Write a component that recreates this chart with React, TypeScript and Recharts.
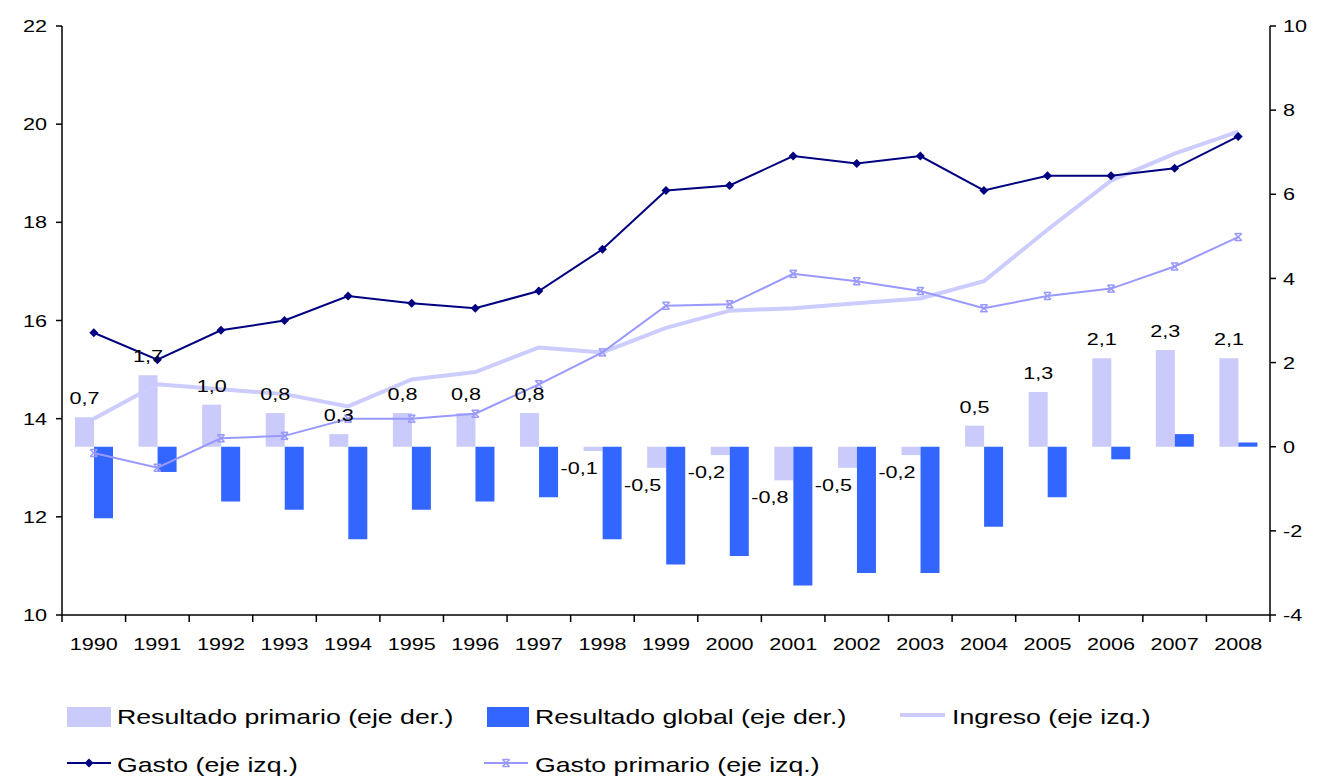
import React from 'react';
import { ComposedChart, Bar, Line, XAxis, YAxis, LabelList } from 'recharts';

const years = ['1990', '1991', '1992', '1993', '1994', '1995', '1996', '1997', '1998', '1999', '2000', '2001', '2002', '2003', '2004', '2005', '2006', '2007', '2008'];
const resultadoPrimario = [0.7, 1.7, 1.0, 0.8, 0.3, 0.8, 0.8, 0.8, -0.1, -0.5, -0.2, -0.8, -0.5, -0.2, 0.5, 1.3, 2.1, 2.3, 2.1];
const resultadoGlobal = [-1.7, -0.6, -1.3, -1.5, -2.2, -1.5, -1.3, -1.2, -2.2, -2.8, -2.6, -3.3, -3.0, -3.0, -1.9, -1.2, -0.3, 0.3, 0.1];
const ingreso = [14.0, 14.7, 14.6, 14.5, 14.25, 14.8, 14.95, 15.45, 15.35, 15.85, 16.2, 16.25, 16.35, 16.45, 16.8, 17.85, 18.85, 19.4, 19.85];
const gasto = [15.75, 15.2, 15.8, 16.0, 16.5, 16.35, 16.25, 16.6, 17.45, 18.65, 18.75, 19.35, 19.2, 19.35, 18.65, 18.95, 18.95, 19.1, 19.75];
const gastoPrimario = [13.3, 13.0, 13.6, 13.65, 14.0, 14.0, 14.1, 14.7, 15.35, 16.3, 16.33, 16.95, 16.8, 16.6, 16.25, 16.5, 16.65, 17.1, 17.7];

const leftTicks = [10, 12, 14, 16, 18, 20, 22];
const rightTicks = [-4, -2, 0, 2, 4, 6, 8, 10];

const data = years.map((year, i) => ({
  year,
  primario: resultadoPrimario[i],
  global: resultadoGlobal[i],
  ingreso: ingreso[i],
  gasto: gasto[i],
  gastoPrimario: gastoPrimario[i],
}));

const W = 1318;
const H = 660;
const LEFT_W = 62;
const RIGHT_W = 48;
const TOP = 26;
const X_H = 45;
const PLOT_BOTTOM = H - X_H;
const BAND = (W - LEFT_W - RIGHT_W) / years.length;

const C_PRIM = '#CACAFB';
const C_GLOBAL = '#3366FF';
const C_INGRESO = '#CCCCFF';
const C_GASTO = '#000080';
const C_GPRIM = '#9999FF';

const FONT = '"Liberation Sans", Arial, Helvetica, sans-serif';
const STRETCH = 1.27;

// text drawn a bit wider than the font, like the original
function WideText({ x, y, children, anchor = 'middle', size = 17 }: any) {
  return (
    <text
      transform={`translate(${x},${y}) scale(${STRETCH},1)`}
      textAnchor={anchor}
      dominantBaseline="central"
      fontSize={size}
      fontFamily={FONT}
      fill="#000"
    >
      {children}
    </text>
  );
}

const fmt = (v: number) => v.toFixed(1).replace('.', ',');

function XTick(props: any) {
  const { x, payload, index } = props;
  const left = x - BAND / 2;
  return (
    <g>
      <line x1={left} x2={left} y1={PLOT_BOTTOM} y2={PLOT_BOTTOM + 7} stroke="#000" strokeWidth={1.5} />
      {index === years.length - 1 && (
        <line x1={x + BAND / 2} x2={x + BAND / 2} y1={PLOT_BOTTOM} y2={PLOT_BOTTOM + 7} stroke="#000" strokeWidth={1.5} />
      )}
      <WideText x={x} y={PLOT_BOTTOM + 29}>{payload.value}</WideText>
    </g>
  );
}

function LeftTick(props: any) {
  const { x, y, payload } = props;
  return <WideText x={x} y={y} anchor="end">{payload.value}</WideText>;
}

function RightTick(props: any) {
  const { x, y, payload } = props;
  return <WideText x={x} y={y} anchor="start">{payload.value}</WideText>;
}

function PrimLabel(props: any) {
  const { x, y, width, height, value } = props;
  const v = Number(value);
  const top = Math.min(y, y + height);
  const bottom = Math.max(y, y + height);
  if (v >= 0) {
    return <WideText x={x + width / 2} y={top - 19}>{fmt(v)}</WideText>;
  }
  return <WideText x={x + width / 2 - 14} y={bottom + 17}>{fmt(v)}</WideText>;
}

function Diamond(props: any) {
  const { cx, cy, index } = props;
  if (cx == null || cy == null) return <g key={index} />;
  const r = 4.5;
  return <path key={index} d={`M${cx},${cy - r}L${cx + r},${cy}L${cx},${cy + r}L${cx - r},${cy}Z`} fill={C_GASTO} />;
}

function XMark(props: any) {
  const { cx, cy, index } = props;
  if (cx == null || cy == null) return <g key={index} />;
  const r = 3.5;
  return (
    <g key={index} stroke={C_GPRIM} strokeWidth={1.5}>
      <line x1={cx - r} y1={cy - r} x2={cx + r} y2={cy + r} />
      <line x1={cx - r} y1={cy + r} x2={cx + r} y2={cy - r} />
      <line x1={cx - r} y1={cy - r} x2={cx + r} y2={cy - r} />
      <line x1={cx - r} y1={cy + r} x2={cx + r} y2={cy + r} />
    </g>
  );
}

function LegendBox() {
  const r1 = 57;
  const r2 = 105;
  return (
    <svg width={W} height={120} style={{ position: 'absolute', left: 0, top: H }}>
      <rect x={67} y={r1 - 10} width={44} height={20} fill={C_PRIM} />
      <WideText x={117} y={r1} anchor="start" size={21}>Resultado primario (eje der.)</WideText>
      <rect x={487} y={r1 - 10} width={42} height={20} fill={C_GLOBAL} />
      <WideText x={535} y={r1} anchor="start" size={21}>Resultado global (eje der.)</WideText>
      <line x1={900} x2={945} y1={r1 - 2} y2={r1 - 2} stroke={C_INGRESO} strokeWidth={4} />
      <WideText x={952} y={r1} anchor="start" size={21}>Ingreso (eje izq.)</WideText>

      <line x1={67} x2={111} y1={r2 - 2} y2={r2 - 2} stroke={C_GASTO} strokeWidth={2} />
      <Diamond cx={89} cy={r2 - 2} index={0} />
      <WideText x={117} y={r2} anchor="start" size={21}>Gasto (eje izq.)</WideText>
      <line x1={484} x2={528} y1={r2 - 2} y2={r2 - 2} stroke={C_GPRIM} strokeWidth={2} />
      <XMark cx={506} cy={r2 - 2} index={1} />
      <WideText x={535} y={r2} anchor="start" size={21}>Gasto primario (eje izq.)</WideText>
    </svg>
  );
}

export default function App() {
  return (
    <div style={{ position: 'absolute', left: 0, top: 0, width: W, height: 780, background: '#fff' }}>
      <ComposedChart
        width={W}
        height={H}
        data={data}
        margin={{ top: TOP, right: 0, bottom: 0, left: 0 }}
        barGap={0}
        barSize={19}
      >
        <XAxis
          dataKey="year"
          height={X_H}
          tickLine={false}
          axisLine={{ stroke: '#000', strokeWidth: 1.5 }}
          tick={<XTick />}
          interval={0}
        />
        <YAxis
          yAxisId="left"
          orientation="left"
          width={LEFT_W}
          domain={[10, 22]}
          ticks={leftTicks}
          interval={0}
          tickSize={6}
          tickMargin={9}
          tickLine={{ stroke: '#000', strokeWidth: 1.5 }}
          axisLine={{ stroke: '#000', strokeWidth: 1.5 }}
          tick={<LeftTick />}
        />
        <YAxis
          yAxisId="right"
          orientation="right"
          width={RIGHT_W}
          domain={[-4, 10]}
          ticks={rightTicks}
          interval={0}
          tickSize={6}
          tickMargin={7}
          tickLine={{ stroke: '#000', strokeWidth: 1.5 }}
          axisLine={{ stroke: '#000', strokeWidth: 1.5 }}
          tick={<RightTick />}
        />
        <Bar yAxisId="right" dataKey="primario" fill={C_PRIM} isAnimationActive={false}>
          <LabelList dataKey="primario" content={<PrimLabel />} />
        </Bar>
        <Bar yAxisId="right" dataKey="global" fill={C_GLOBAL} isAnimationActive={false} />
        <Line yAxisId="left" dataKey="ingreso" stroke={C_INGRESO} strokeWidth={4} dot={false} isAnimationActive={false} />
        <Line yAxisId="left" dataKey="gastoPrimario" stroke={C_GPRIM} strokeWidth={2} dot={XMark} isAnimationActive={false} />
        <Line yAxisId="left" dataKey="gasto" stroke={C_GASTO} strokeWidth={2} dot={Diamond} isAnimationActive={false} />
      </ComposedChart>
      <LegendBox />
    </div>
  );
}
